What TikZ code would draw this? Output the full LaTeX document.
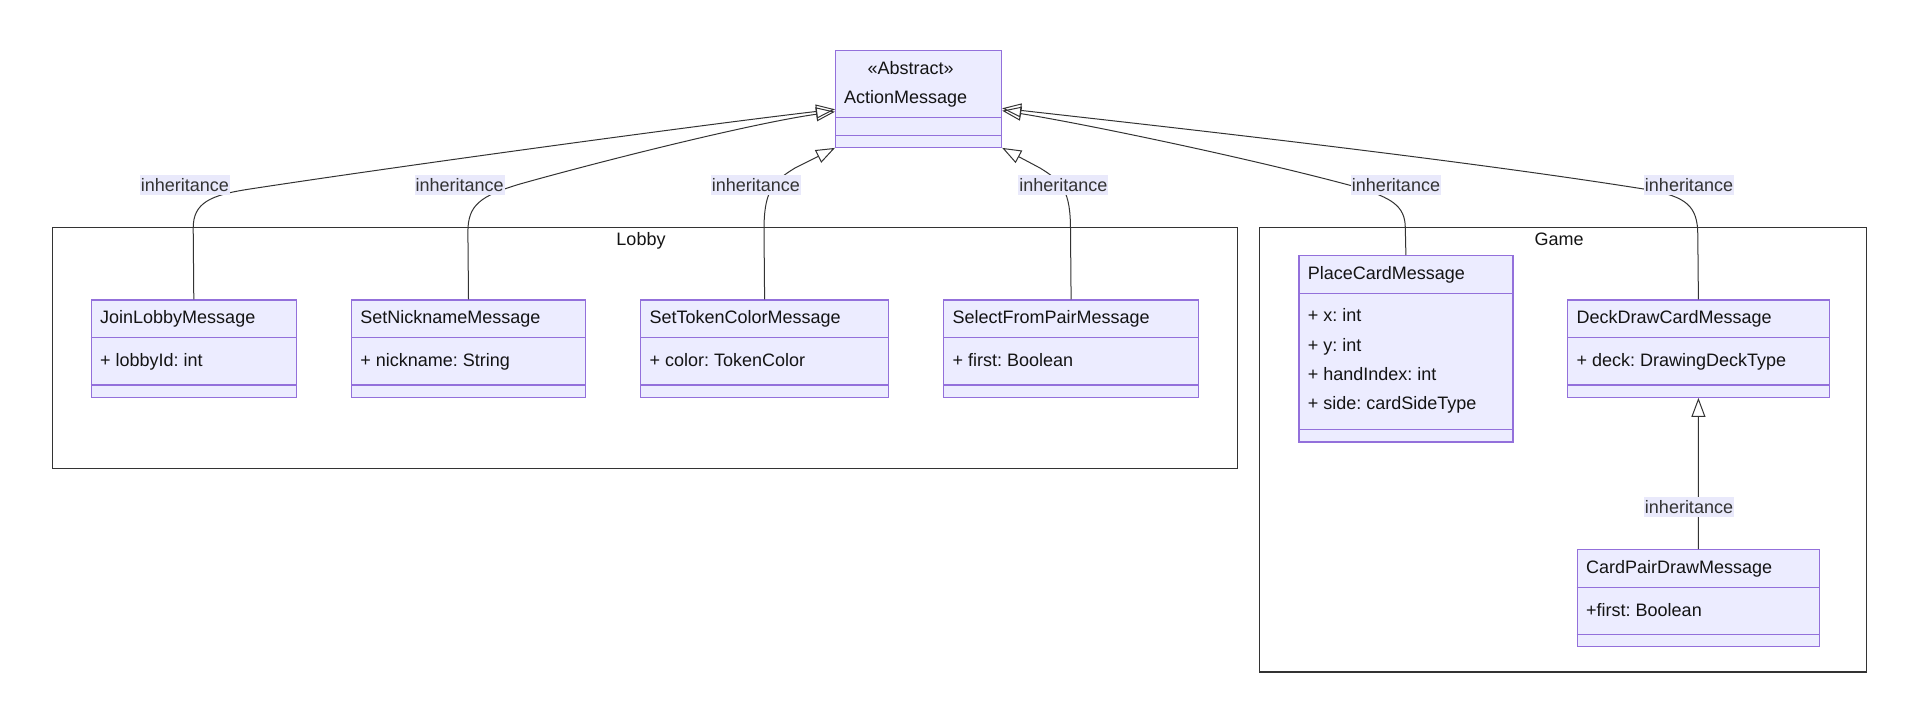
\documentclass[tikz,border=0pt]{standalone}
\usepackage{fontspec}
\setmainfont{Liberation Sans}
\usepackage{tikz}
\usetikzlibrary{arrows.meta}
\usepackage{xcolor}
\definecolor{clsfill}{HTML}{ECECFF}
\definecolor{clsline}{HTML}{9370DB}
\definecolor{edgecol}{HTML}{333333}
\definecolor{lblfill}{HTML}{E9E9FB}
\frenchspacing
\begin{document}
\begin{tikzpicture}[x=1pt,y=-1pt,
    font=\fontsize{18}{21}\selectfont,
    cls/.style={draw=clsline,fill=clsfill,line width=1.2pt,anchor=north west,inner sep=0pt},
    sep/.style={draw=clsline,line width=1.2pt},
    txt/.style={anchor=base west,inner sep=0pt,text=black!92},
    lbl/.style={fill=lblfill,inner xsep=1pt,inner ysep=0pt,minimum height=20pt,text=edgecol},
    grp/.style={draw=edgecol,line width=1.3pt},
    inh/.style={draw=edgecol,line width=1pt,-{Triangle[open,length=19pt,width=14pt]}}]
      \useasboundingbox (0,0) rectangle (1923,707);
      % namespaces
      \draw[grp] (52.5,227.3) rectangle (1237.5,468.3);
      \draw[grp] (1259.5,227.3) rectangle (1866.6,672);
      \node[anchor=base,text=black!92] (lobbyname) at (641,245) {Lobby};
      \node[anchor=base,text=black!92] (gamename) at (1559,245) {Game};
      % classes
      \node[cls,minimum width=166pt,minimum height=96.7pt] (action) at (835,50) {};
      \node[cls,minimum width=205pt,minimum height=97.4pt] (join) at (90.7,299.3) {};
      \node[cls,minimum width=234.2pt,minimum height=97.4pt] (nick) at (350.8,299.3) {};
      \node[cls,minimum width=248pt,minimum height=97.4pt] (token) at (640,299.3) {};
      \node[cls,minimum width=255pt,minimum height=97.4pt] (select) at (943,299.3) {};
      \node[cls,minimum width=214pt,minimum height=186.3pt] (place) at (1298.3,255) {};
      \node[cls,minimum width=261.6pt,minimum height=97.4pt] (deck) at (1567,299.3) {};
      \node[cls,minimum width=242.3pt,minimum height=97pt] (pair) at (1576.7,549) {};
      \foreach \n/\d in {action/67.7,action/85.7,join/38.4,join/85.7,nick/38.4,nick/85.7,
          token/38.4,token/85.7,select/38.4,select/85.7,place/38.3,place/174.3,
          deck/38.4,deck/85.7,pair/38.3,pair/85.3}
        \draw[sep] ([yshift=-\d pt]\n.north west) -- ([yshift=-\d pt]\n.north east);
      \node[anchor=base,inner sep=0pt,text=black!92] at ([xshift=-8pt,yshift=-24.3pt]action.north) {«Abstract»};
      \node[txt] at ([xshift=9pt,yshift=-53.3pt]action.north west) {ActionMessage};
      \foreach \n/\t in {join/JoinLobbyMessage,nick/SetNicknameMessage,token/SetTokenColorMessage,
          select/SelectFromPairMessage,place/PlaceCardMessage,deck/DeckDrawCardMessage,
          pair/CardPairDrawMessage}
        \node[txt] at ([xshift=9.3pt,yshift=-24.5pt]\n.north west) {\t};
      \foreach \n/\t in {join/{+ lobbyId: int},nick/{+ nickname: String},token/{+ color: TokenColor},
          select/{+ first: Boolean},deck/{+ deck: DrawingDeckType},pair/{+first: Boolean}}
        \node[txt] at ([xshift=9.3pt,yshift=-67.1pt]\n.north west) {\t};
      \foreach \t [count=\i from 0] in {{+ x: int},{+ y: int},{+ handIndex: int},{+ side: cardSideType}}
        \node[txt] at ([xshift=9.3pt,yshift=-66.7pt-\i*29.3pt]place.north west) {\t};
      % inheritance edges
      \draw[inh] (join.north) -- (193.2,228) .. controls (193.2,203) and (210,195) .. (250,189)
          .. controls (400,166) and (700,125) .. ([yshift=-59.3pt]action.north west);
      \draw[inh] (nick.north) -- (467.9,232) .. controls (467.9,205) and (480,196) .. (520,184)
          .. controls (620,156) and (760,122) .. ([yshift=-61.7pt]action.north west);
      \draw[inh] (token.north) -- (764,230) .. controls (764,192) and (772,182) .. (795,168)
          -- (action.south west);
      \draw[inh] (select.north) -- (1070.5,230) .. controls (1070.5,192) and (1063,182) .. (1040,168)
          -- (action.south east);
      \draw[inh] (place.north) -- (1405.3,228) .. controls (1405.3,205) and (1390,198) .. (1360,188)
          .. controls (1250,158) and (1080,123) .. ([yshift=-60.7pt]action.north east);
      \draw[inh] (deck.north) -- (1697.8,235) .. controls (1697.8,205) and (1685,197) .. (1650,190)
          .. controls (1450,158) and (1150,125) .. ([yshift=-58.3pt]action.north east);
      \draw[inh] (pair.north) -- (deck.south);
      % edge labels
      \node[lbl] (ljoin) at (184.8,185) {inheritance};
      \node[lbl] (lnick) at (459.6,185) {inheritance};
      \node[lbl] (ltoken) at (755.8,185) {inheritance};
      \node[lbl] (lselect) at (1063.4,185) {inheritance};
      \node[lbl] (lplace) at (1396,185) {inheritance};
      \node[lbl] (ldeck) at (1689,185) {inheritance};
      \node[lbl] (lpair) at (1689,506.7) {inheritance};
    \end{tikzpicture}
\end{document}
